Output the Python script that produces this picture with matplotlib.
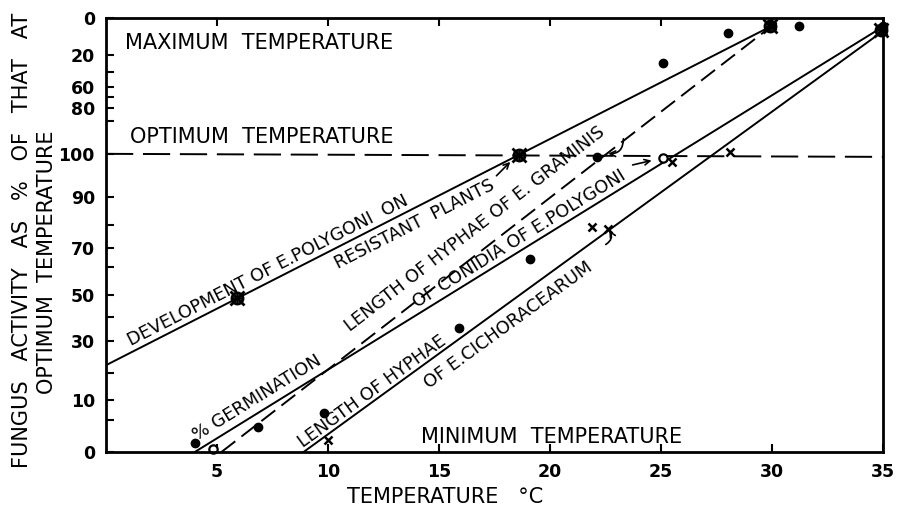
import numpy as np
import matplotlib
matplotlib.use('Agg')
import matplotlib.pyplot as plt

plt.rcParams['font.family'] = ['DejaVu Sans']

# y axis is a stretched activity scale: 0 at min temp, 100 at optimum, back to 0 at max temp
# positions are given on a 0-100 plotting scale (bottom -> top)
y_tick_pos = [0, 12.0, 25.6, 36.2, 47.0, 58.8, 68.7, 79.3, 84.1, 91.5, 100]
y_tick_lab = ['0', '10', '30', '50', '70', '90', '100', '80', '60', '20', '0']
y_minor_pos = [7.4, 18.2, 31.1, 42.6, 52.3, 76.3, 81.8, 87.6]
x_ticks = [5, 10, 15, 20, 25, 30, 35]

# fitted lines (temperature, scale position)
dev_x = [0, 30]
dev_y = [20.0, 98.2]
gram_x = [5.2, 30]
gram_y = [0, 98.2]
germ_x = [4.0, 35]
germ_y = [0, 98.0]
cich_x = [8.9, 35]
cich_y = [0, 97.0]
opt_x = [0, 35]
opt_y = [68.7, 68.0]

# observations
dots_x = [4.0, 6.85, 9.8, 15.9, 19.1, 22.1, 25.1, 28.0, 31.2, 35.0]
dots_y = [2.1, 5.8, 9.0, 28.6, 44.5, 68.0, 89.6, 96.5, 98.2, 98.2]
open_x = [4.8, 25.1]
open_y = [0.7, 67.7]
cross_x = [10.0, 21.9, 22.6, 25.5, 28.1, 30.0, 35.0]
cross_y = [2.8, 51.8, 51.4, 66.8, 69.1, 98.2, 97.0]
star_x = [5.9, 18.6, 29.9, 34.9]
star_y = [35.5, 68.4, 98.2, 97.2]

fig = plt.figure(figsize=(9, 5.12), dpi=100)
ax = fig.add_axes([106/900, 60/512, 777/900, 434/512])
ax.set_xlim(0, 35)
ax.set_ylim(0, 100)

lw = 1.4
ax.plot(dev_x, dev_y, color='black', lw=lw)
ax.plot(gram_x, gram_y, color='black', lw=lw, dashes=(9, 4))
ax.plot(germ_x, germ_y, color='black', lw=lw)
ax.plot(cich_x, cich_y, color='black', lw=lw)
ax.plot(opt_x, opt_y, color='black', lw=lw, dashes=(14, 5))

ax.plot(dots_x, dots_y, 'o', color='black', ms=6, clip_on=False)
ax.plot(open_x, open_y, 'o', mfc='white', mec='black', mew=1.6, ms=6, clip_on=False)
ax.plot(cross_x, cross_y, 'x', color='black', ms=6, mew=1.8, clip_on=False)
ax.plot(star_x, star_y, 'o', mfc='none', mec='black', mew=2.0, ms=8, clip_on=False)
ax.plot(star_x, star_y, 'x', color='black', ms=10, mew=2.0, clip_on=False)
ax.plot(star_x, star_y, '+', color='black', ms=9, mew=1.8, clip_on=False)

for s in ax.spines.values():
    s.set_linewidth(2)
ax.set_xticks(x_ticks)
ax.set_xticklabels([str(t) for t in x_ticks])
ax.set_yticks(y_tick_pos)
ax.set_yticklabels(y_tick_lab)
ax.set_yticks(y_minor_pos, minor=True)
ax.tick_params(axis='both', which='both', direction='in', length=6, width=1.5,
               labelsize=12.5, top=True, right=False)
ax.tick_params(axis='x', pad=8)
ax.tick_params(axis='y', pad=8)
for lab in ax.get_xticklabels() + ax.get_yticklabels():
    lab.set_fontweight('bold')


def ang(xs, ys):
    p = ax.transData.transform([(xs[0], ys[0]), (xs[1], ys[1])])
    return np.degrees(np.arctan2(p[1, 1] - p[0, 1], p[1, 0] - p[0, 0]))


a_dev = ang(dev_x, dev_y)
a_gram = ang(gram_x, gram_y)
a_germ = ang(germ_x, germ_y)
a_cich = ang(cich_x, cich_y)

kw = dict(ha='center', va='center', fontsize=12.8, rotation_mode='anchor')
ax.text(7.3, 41.8, 'DEVELOPMENT OF E.POLYGONI  ON', rotation=a_dev, **kw)
ax.text(13.9, 52.4, 'RESISTANT  PLANTS', rotation=a_dev, **kw)
ax.text(16.6, 51.4, 'LENGTH OF HYPHAE OF E. GRAMINIS', rotation=a_gram, **kw)
ax.text(6.8, 12.4, '% GERMINATION', rotation=a_germ, **kw)
ax.text(18.6, 49.0, 'OF CONIDIA OF E.POLYGONI', rotation=a_germ, **kw)
ax.text(12.0, 14.0, 'LENGTH OF HYPHAE', rotation=a_cich, **kw)
ax.text(18.1, 29.1, 'OF E.CICHORACEARUM', rotation=a_cich, **kw)

tkw = dict(fontsize=15, va='center')
ax.text(0.85, 94.2, 'MAXIMUM  TEMPERATURE', **tkw)
ax.text(1.1, 72.6, 'OPTIMUM  TEMPERATURE', **tkw)
ax.text(14.2, 3.5, 'MINIMUM  TEMPERATURE', **tkw)

arw = dict(arrowstyle='->', color='black', lw=1.2)
ax.annotate('', xy=(18.3, 67.3), xytext=(17.5, 63.2), arrowprops=arw)
ax.annotate('', xy=(24.7, 67.3), xytext=(23.6, 66.0), arrowprops=arw)
ax.annotate('', xy=(22.5, 68.8), xytext=(23.3, 72.8),
            arrowprops=dict(arrowstyle='->', color='black', lw=1.2,
                            connectionstyle='arc3,rad=-0.6'))
ax.annotate('', xy=(22.6, 51.6), xytext=(22.4, 47.5),
            arrowprops=dict(arrowstyle='->', color='black', lw=1.2,
                            connectionstyle='arc3,rad=0.6'))

fig.text(22/900, 1 - 240/512, 'FUNGUS   ACTIVITY   AS   %   OF   THAT   AT',
         rotation=90, ha='center', va='center', fontsize=15)
fig.text(47/900, 1 - 262/512, 'OPTIMUM  TEMPERATURE',
         rotation=90, ha='center', va='center', fontsize=15)
fig.text(445/900, 1 - 497/512, 'TEMPERATURE   °C', ha='center', va='center', fontsize=15)

fig.savefig('out.png', dpi=100)
